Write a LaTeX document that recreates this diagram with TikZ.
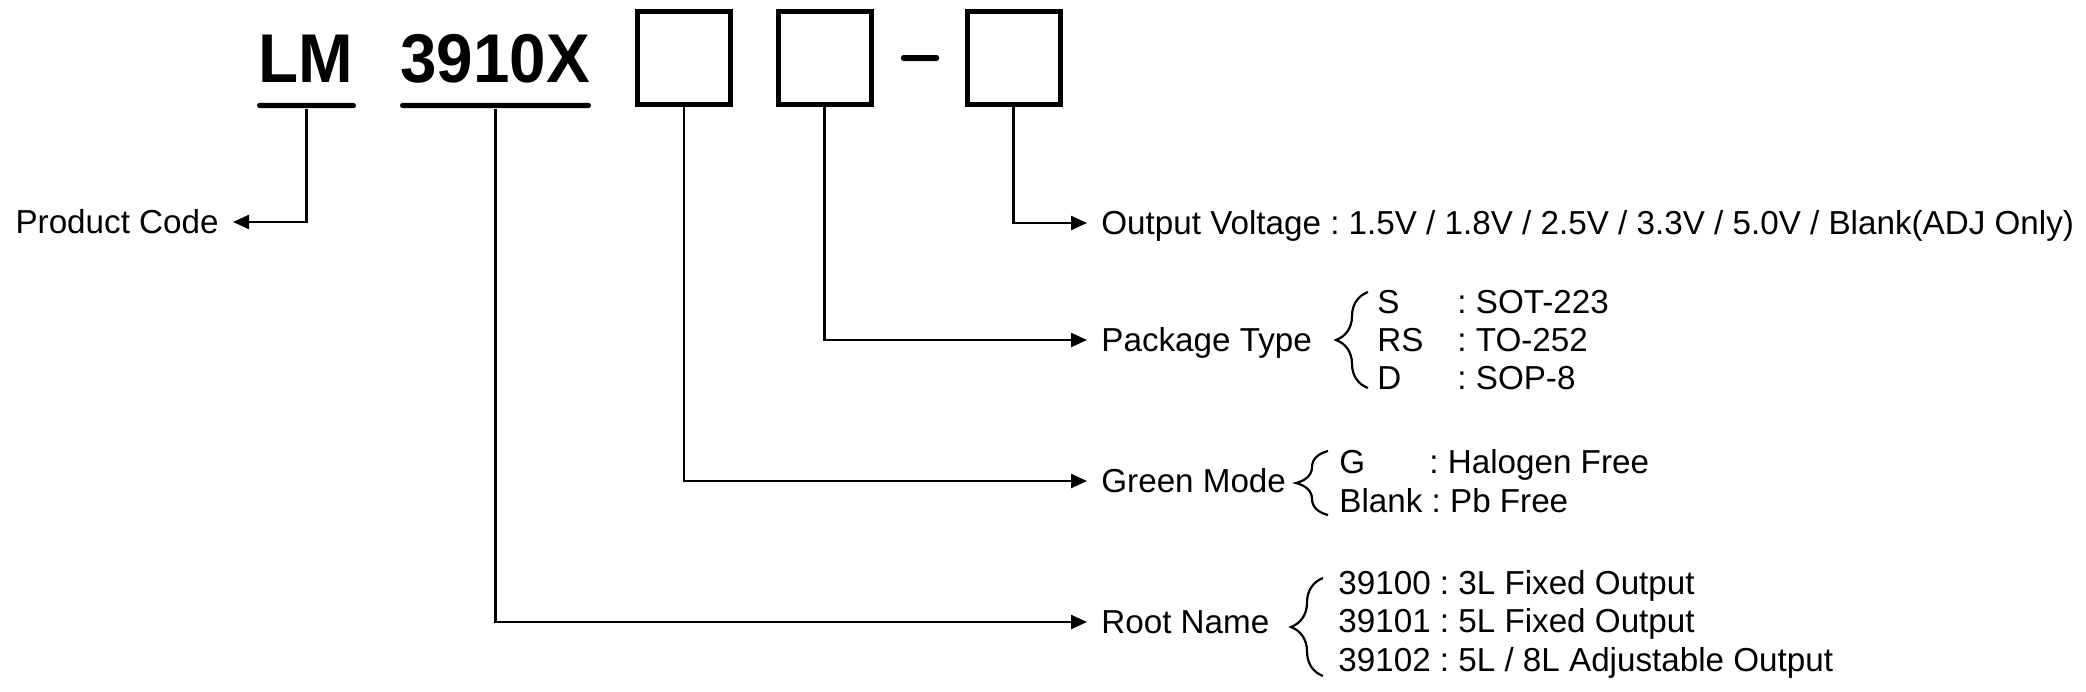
\documentclass[tikz,border=0pt]{standalone}
\usepackage{graphicx}
\usepackage{fontspec}
\setmainfont{Liberation Sans}
\frenchspacing
\usetikzlibrary{arrows.meta,decorations.pathreplacing}

\begin{document}
\begin{tikzpicture}[x=0.5pt, y=-0.5pt,
    lbl/.style={inner xsep=7pt, inner ysep=0pt, text height=11.8pt, text depth=0pt, font=\fontsize{16.6}{19.5}\selectfont},
    item/.style={lbl, inner xsep=0pt, anchor=west},
    code/.style={inner sep=0pt, anchor=base, font=\fontsize{34.5}{40}\selectfont\bfseries},
    bar/.style={fill, inner sep=0pt, minimum height=2.6pt, rounded corners=1.3pt},
    slot/.style={draw, line width=2.5pt, inner sep=0pt, minimum width=46.5pt, minimum height=46.5pt},
    conn/.style={line width=1.2pt, -{Triangle[length=8pt, width=7pt]}},
    curly/.style={line width=1.1pt, decorate, decoration={brace, amplitude=16pt}}]
    \useasboundingbox (0,0) rectangle (2086,691);

    \node[code] (lm) at (306,82) {\scalebox{0.95}[1]{LM}};
    \node[code] (root) at (495,82) {\scalebox{0.95}[1]{3910X}};
    \node[bar, minimum width=49.5pt] (lmbar) at (306.5,105.5) {};
    \node[bar, minimum width=95.5pt] (rootbar) at (495.5,105.5) {};
    \node[slot] (s1) at (684,58) {};
    \node[slot] (s2) at (824.5,58) {};
    \node[bar, minimum width=19pt, minimum height=3pt] (dash) at (920,58) {};
    \node[slot] (s3) at (1013.5,58) {};

    % labels
    \node[lbl, anchor=east] (pc) at (233,222) {Product Code};
    \node[lbl, anchor=west] (ov) at (1087,223) {Output Voltage : 1.5V / 1.8V / 2.5V / 3.3V / 5.0V / Blank(ADJ Only)};
    \node[lbl, anchor=west] (pt) at (1087,340) {Package Type};
    \node[lbl, anchor=west] (gm) at (1087,481) {Green Mode};
    \node[lbl, anchor=west] (rn) at (1087,622) {Root Name};

    % options
    \node[item] (pts) at (1377,302) {\makebox[40pt][l]{S}: SOT-223};
    \node[item] (ptrs) at (1377,340) {\makebox[40pt][l]{RS}: TO-252};
    \node[item] (ptd) at (1377,378) {\makebox[40pt][l]{D}: SOP-8};
    \node[item] (gmg) at (1339,462) {\makebox[45pt][l]{G}: Halogen Free};
    \node[item] (gmb) at (1339,501) {Blank : Pb Free};
    \node[item] (rn0) at (1338,583) {39100 : 3L Fixed Output};
    \node[item] (rn1) at (1338,621) {39101 : 5L Fixed Output};
    \node[item] (rn2) at (1338,660) {39102 : 5L / 8L Adjustable Output};

    \draw[curly] (1368,388) -- (1368,292);
    \draw[curly] (1328,515) -- (1328,451);
    \draw[curly] (1323,676) -- (1323,578);

    \draw[conn] (lmbar.south) |- (pc.east);
    \draw[conn] (rootbar.south) |- (rn.west);
    \draw[conn] (s1.south) |- (gm.west);
    \draw[conn] (s2.south) |- (pt.west);
    \draw[conn] (s3.south) |- (ov.west);
\end{tikzpicture}
\end{document}
